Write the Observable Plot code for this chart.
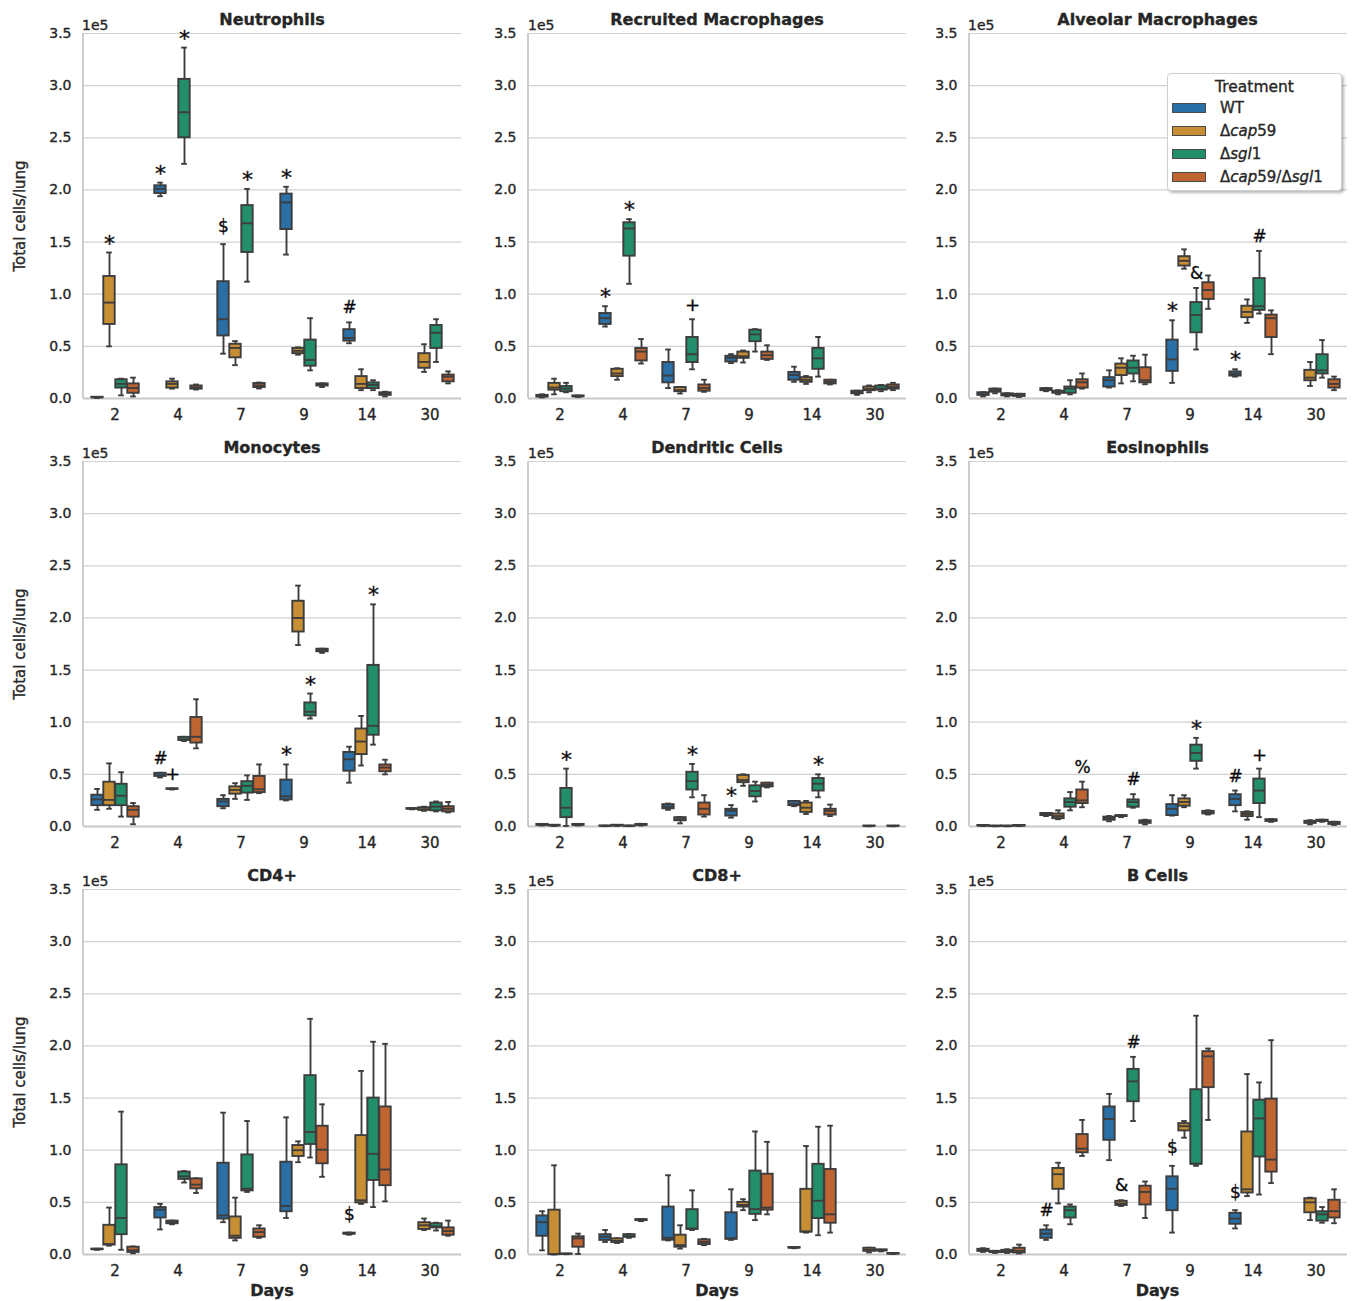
<!DOCTYPE html>
<html>
<head>
<meta charset="utf-8">
<script src="https://cdn.jsdelivr.net/npm/d3@7"></script>
<script src="https://cdn.jsdelivr.net/npm/@observablehq/plot@0.6"></script>
<style>
  body { margin: 0; background: #fff; }
  #root { position: relative; width: 1356px; height: 1301px; font-family: "DejaVu Sans", sans-serif; color: #262626; overflow: hidden;
          -webkit-text-stroke: 0.35px #262626; }
  #root svg text { stroke: currentColor; stroke-width: 0.35px; }
  .panel { position: absolute; }
  .lbl { position: absolute; white-space: nowrap; transform: translate(-50%, -50%); line-height: 1; }
  .title { font-weight: bold; font-size: 16px; }
  .offset { position: absolute; font-size: 14px; line-height: 1; transform: translateY(-50%); }
  .ylab { font-size: 15px; transform: translate(-50%, -50%) rotate(-90deg); }
  .xlab { font-weight: bold; font-size: 16px; }
  #legend { position: absolute; left: 1167px; top: 73px; width: 175px; height: 118px; box-sizing: border-box;
            background: #fff; border: 1px solid #d0d0d0; border-radius: 4px; box-shadow: 2px 2px 3px rgba(0,0,0,0.28); }
  #legend .ltitle { position: absolute; left: 0; right: 0; top: 4px; text-align: center; font-size: 15.5px; }
  #legend .row { position: absolute; left: 4px; height: 16px; display: flex; align-items: center; font-size: 15px; }
  #legend .sw { width: 34px; height: 10px; border: 1px solid #4a4a4a; box-sizing: border-box; margin-right: 14px; }
</style>
</head>
<body>
<div id="root"></div>
<script>
// ---------- categories ----------
const days = ["2", "4", "7", "9", "14", "30"];
const treatments = ["WT", "Δcap59", "Δsgl1", "Δcap59/Δsgl1"];
const colors = ["#2a6fa6", "#c88e34", "#238e6b", "#bf6532"];
const yTicks = [0, 0.5, 1, 1.5, 2, 2.5, 3, 3.5];           // in units of 1e5 cells/lung
const titles = ["Neutrophils", "Recruited Macrophages", "Alveolar Macrophages",
                "Monocytes", "Dendritic Cells", "Eosinophils",
                "CD4+", "CD8+", "B Cells"];

// ---------- box statistics: per day (rows) and treatment (cols): [min, q1, median, q3, max] (×1e5) ----------
const neutrophils = [
  [[0.005,0.008,0.01,0.012,0.015],[0.50,0.71,0.92,1.17,1.40],[0.03,0.10,0.14,0.18,0.19],[0.02,0.05,0.10,0.14,0.20]],
  [[1.94,1.965,2.01,2.04,2.07],[0.095,0.10,0.14,0.16,0.19],[2.25,2.50,2.745,3.06,3.365],[0.086,0.09,0.105,0.12,0.134]],
  [[0.43,0.60,0.76,1.12,1.48],[0.32,0.39,0.485,0.52,0.55],[1.12,1.40,1.68,1.85,2.01],[0.096,0.105,0.125,0.144,0.153]],
  [[1.38,1.62,1.88,1.96,2.03],[0.42,0.43,0.457,0.48,0.49],[0.27,0.31,0.37,0.56,0.77],[0.11,0.12,0.13,0.14,0.145]],
  [[0.53,0.55,0.58,0.66,0.73],[0.08,0.096,0.14,0.21,0.28],[0.08,0.095,0.13,0.15,0.175],[0.02,0.03,0.045,0.055,0.065]],
  [null,[0.255,0.29,0.35,0.43,0.52],[0.35,0.48,0.63,0.70,0.76],[0.145,0.16,0.21,0.225,0.26]]
];
const recruitedMacrophages = [
  [[0.01,0.015,0.02,0.03,0.04],[0.04,0.08,0.105,0.145,0.19],[0.06,0.065,0.095,0.115,0.15],[0.015,0.018,0.02,0.025,0.028]],
  [[0.69,0.71,0.77,0.815,0.885],[0.18,0.21,0.24,0.28,0.29],[1.10,1.365,1.63,1.685,1.72],[0.335,0.36,0.45,0.48,0.57]],
  [[0.10,0.15,0.22,0.345,0.47],[0.048,0.065,0.08,0.105,0.11],[0.28,0.345,0.425,0.585,0.76],[0.064,0.07,0.10,0.13,0.18]],
  [[0.34,0.35,0.39,0.405,0.425],[0.345,0.385,0.405,0.445,0.46],[0.45,0.545,0.615,0.655,0.665],[0.37,0.375,0.415,0.445,0.51]],
  [[0.16,0.175,0.225,0.25,0.305],[0.14,0.155,0.18,0.20,0.215],[0.21,0.28,0.385,0.48,0.59],[0.135,0.14,0.16,0.175,0.18]],
  [[0.035,0.045,0.06,0.07,0.075],[0.06,0.075,0.09,0.11,0.125],[0.07,0.08,0.095,0.12,0.13],[0.08,0.09,0.11,0.13,0.15]]
];
const alveolarMacrophages = [
  [[0.02,0.03,0.04,0.055,0.06],[0.05,0.06,0.08,0.09,0.095],[0.02,0.025,0.035,0.045,0.05],[0.015,0.02,0.03,0.04,0.045]],
  [[0.07,0.075,0.085,0.095,0.10],[0.04,0.05,0.06,0.07,0.08],[0.04,0.05,0.095,0.11,0.175],[0.095,0.10,0.155,0.18,0.24]],
  [[0.105,0.11,0.175,0.20,0.27],[0.145,0.22,0.295,0.33,0.385],[0.165,0.235,0.295,0.36,0.41],[0.137,0.15,0.175,0.295,0.42]],
  [[0.15,0.26,0.375,0.56,0.75],[1.245,1.27,1.32,1.36,1.43],[0.47,0.63,0.80,0.92,1.06],[0.86,0.95,1.04,1.11,1.18]],
  [[0.21,0.215,0.235,0.255,0.28],[0.725,0.775,0.83,0.885,0.95],[0.815,0.845,0.885,1.15,1.415],[0.425,0.585,0.77,0.80,0.845]],
  [null,[0.12,0.17,0.20,0.27,0.35],[0.20,0.235,0.27,0.42,0.56],[0.08,0.10,0.14,0.18,0.21]]
];
const monocytes = [
  [[0.16,0.20,0.26,0.30,0.36],[0.17,0.20,0.255,0.425,0.605],[0.095,0.20,0.295,0.405,0.52],[0.022,0.09,0.16,0.19,0.225]],
  [[0.47,0.48,0.49,0.51,0.515],[0.355,0.358,0.36,0.362,0.365],[0.82,0.825,0.835,0.855,0.86],[0.75,0.80,0.86,1.045,1.22]],
  [[0.175,0.19,0.24,0.26,0.30],[0.265,0.31,0.35,0.38,0.415],[0.255,0.32,0.39,0.43,0.49],[0.32,0.325,0.357,0.48,0.595]],
  [[0.25,0.255,0.29,0.445,0.595],[1.74,1.865,2.0,2.16,2.31],[1.035,1.06,1.10,1.185,1.275],[1.665,1.675,1.69,1.70,1.705]],
  [[0.42,0.53,0.645,0.71,0.765],[0.585,0.69,0.815,0.935,1.06],[0.785,0.875,0.965,1.545,2.13],[0.50,0.525,0.565,0.59,0.64]],
  [[0.165,0.167,0.17,0.172,0.175],[0.15,0.155,0.165,0.18,0.19],[0.145,0.15,0.19,0.225,0.24],[0.135,0.14,0.17,0.19,0.235]]
];
const dendriticCells = [
  [[0.01,0.012,0.015,0.02,0.022],[0.005,0.007,0.01,0.012,0.015],[0.005,0.085,0.18,0.365,0.555],[0.01,0.012,0.015,0.02,0.022]],
  [[0.003,0.004,0.005,0.006,0.007],[0.005,0.007,0.01,0.012,0.015],[0.003,0.004,0.005,0.006,0.007],[0.01,0.012,0.016,0.02,0.025]],
  [[0.16,0.17,0.19,0.21,0.22],[0.03,0.055,0.07,0.085,0.09],[0.28,0.35,0.435,0.52,0.60],[0.095,0.11,0.17,0.225,0.30]],
  [[0.085,0.10,0.15,0.165,0.205],[0.39,0.42,0.445,0.49,0.50],[0.24,0.285,0.34,0.39,0.43],[0.375,0.38,0.40,0.415,0.42]],
  [[0.195,0.20,0.215,0.24,0.245],[0.12,0.135,0.18,0.225,0.245],[0.28,0.34,0.41,0.46,0.50],[0.10,0.11,0.15,0.165,0.21]],
  [null,[0.002,0.003,0.004,0.005,0.006],null,[0.002,0.003,0.004,0.005,0.006]]
];
const eosinophils = [
  [[0.005,0.006,0.008,0.01,0.011],[0.002,0.003,0.004,0.005,0.006],[0.002,0.003,0.004,0.005,0.006],[0.005,0.006,0.008,0.01,0.011]],
  [[0.10,0.105,0.115,0.125,0.13],[0.07,0.075,0.10,0.12,0.155],[0.155,0.185,0.235,0.265,0.33],[0.185,0.22,0.25,0.35,0.43]],
  [[0.05,0.06,0.08,0.09,0.10],[0.09,0.095,0.10,0.105,0.11],[0.18,0.185,0.235,0.255,0.31],[0.02,0.03,0.045,0.055,0.065]],
  [[0.105,0.105,0.17,0.21,0.30],[0.185,0.195,0.235,0.265,0.30],[0.555,0.625,0.705,0.78,0.85],[0.115,0.12,0.13,0.145,0.155]],
  [[0.145,0.20,0.265,0.305,0.345],[0.065,0.095,0.12,0.135,0.145],[0.09,0.22,0.345,0.455,0.555],[0.045,0.05,0.055,0.065,0.07]],
  [null,[0.02,0.03,0.04,0.05,0.06],[0.045,0.05,0.055,0.06,0.065],[0.015,0.02,0.03,0.04,0.045]]
];
const cd4 = [
  [[0.045,0.047,0.05,0.052,0.055],[0.085,0.09,0.10,0.28,0.45],[0.045,0.19,0.35,0.86,1.37],[0.012,0.02,0.04,0.07,0.077]],
  [[0.24,0.35,0.43,0.45,0.486],[0.29,0.295,0.31,0.32,0.325],[0.69,0.72,0.75,0.79,0.80],[0.59,0.63,0.67,0.725,0.73]],
  [[0.31,0.34,0.375,0.875,1.36],[0.135,0.155,0.18,0.36,0.545],[0.60,0.61,0.63,0.955,1.28],[0.16,0.165,0.215,0.245,0.28]],
  [[0.35,0.41,0.465,0.885,1.315],[0.885,0.94,1.0,1.045,1.085],[0.93,1.055,1.175,1.715,2.26],[0.745,0.87,1.005,1.23,1.44]],
  [[0.19,0.195,0.2,0.205,0.21],[0.485,0.495,0.52,1.14,1.76],[0.455,0.71,0.965,1.50,2.04],[0.51,0.66,0.815,1.415,2.02]],
  [null,[0.235,0.24,0.28,0.305,0.345],[0.23,0.255,0.27,0.295,0.305],[0.18,0.185,0.225,0.255,0.325]]
];
const cd8 = [
  [[0.04,0.175,0.31,0.37,0.415],[0,0,0.003,0.425,0.855],[0.003,0.004,0.005,0.006,0.007],[0.005,0.07,0.155,0.17,0.20]],
  [[0.12,0.135,0.17,0.19,0.235],[0.11,0.115,0.13,0.15,0.155],[0.16,0.165,0.175,0.19,0.195],[0.32,0.325,0.33,0.335,0.34]],
  [[0.135,0.137,0.16,0.455,0.76],[0.057,0.07,0.09,0.185,0.28],[0.235,0.24,0.25,0.43,0.615],[0.09,0.095,0.12,0.14,0.15]],
  [[0.14,0.145,0.155,0.40,0.625],[0.425,0.455,0.475,0.50,0.53],[0.33,0.385,0.435,0.80,1.18],[0.385,0.425,0.45,0.77,1.08]],
  [[0.06,0.062,0.065,0.067,0.07],[0.21,0.215,0.22,0.625,1.04],[0.185,0.345,0.515,0.865,1.225],[0.21,0.30,0.385,0.815,1.235]],
  [null,[0.02,0.03,0.045,0.06,0.065],[0.03,0.035,0.04,0.045,0.045],[0.005,0.006,0.008,0.01,0.01]]
];
const bCells = [
  [[0.025,0.03,0.04,0.05,0.06],[0.015,0.02,0.025,0.03,0.035],[0.015,0.02,0.03,0.04,0.05],[0.01,0.015,0.035,0.06,0.095]],
  [[0.14,0.155,0.20,0.235,0.28],[0.49,0.625,0.77,0.825,0.88],[0.29,0.35,0.425,0.455,0.48],[0.945,0.975,1.015,1.15,1.29]],
  [[0.905,1.095,1.30,1.415,1.54],[0.465,0.47,0.49,0.51,0.52],[1.28,1.465,1.66,1.775,1.895],[0.35,0.475,0.60,0.655,0.70]],
  [[0.21,0.42,0.63,0.745,0.85],[1.12,1.185,1.23,1.255,1.28],[0.85,0.865,0.87,1.58,2.29],[1.29,1.60,1.90,1.945,1.975]],
  [[0.25,0.29,0.345,0.395,0.425],[0.56,0.59,0.625,1.175,1.73],[0.575,0.935,1.305,1.48,1.65],[0.685,0.79,0.91,1.49,2.055]],
  [null,[0.33,0.40,0.50,0.535,0.545],[0.305,0.32,0.385,0.41,0.455],[0.30,0.35,0.415,0.52,0.625]]
];

// ---------- significance marks: [day, treatment index, symbol] ----------
const neutrophilsNotes = [["2",1,"*"],["4",0,"*"],["4",2,"*"],["7",0,"$"],["7",2,"*"],["9",0,"*"],["14",0,"#"]];
const recruitedNotes   = [["4",0,"*"],["4",2,"*"],["7",2,"+"]];
const alveolarNotes    = [["9",0,"*"],["9",2,"&"],["14",0,"*"],["14",2,"#"]];
const monocytesNotes   = [["4",0,"#"],["4",1,"+"],["9",0,"*"],["9",2,"*"],["14",2,"*"]];
const dendriticNotes   = [["2",2,"*"],["7",2,"*"],["9",0,"*"],["14",2,"*"]];
const eosinophilsNotes = [["4",3,"%"],["7",2,"#"],["9",2,"*"],["14",0,"#"],["14",2,"+"]];
const cd4Notes         = [["14",0,"$"]];
const cd8Notes         = [];
const bCellsNotes      = [["4",0,"#"],["7",1,"&"],["7",2,"#"],["9",0,"$"],["14",0,"$"]];

const panelStats = [neutrophils, recruitedMacrophages, alveolarMacrophages, monocytes, dendriticCells, eosinophils, cd4, cd8, bCells];
const panelNotes = [neutrophilsNotes, recruitedNotes, alveolarNotes, monocytesNotes, dendriticNotes, eosinophilsNotes, cd4Notes, cd8Notes, bCellsNotes];

// ---------- layout & style ----------
const colLeft = [0, 446, 886];
const plotW = [382, 380, 381];
const rowTop = [0, 428, 856];
const mTop = 33, plotH = 365, mLeft = 81;
const mBottom = [30, 30, 46];
const edge = "#3d3d3d", gridColor = "#d2d2d2", spineColor = "#c8c8c8";
const symbolStyle = {"*": [-2, 22], "$": [-12.5, 17], "#": [-9, 17], "%": [-9, 17], "&": [-9, 17], "+": [-8, 18]};

const root = document.getElementById("root");

function makePanel(k) {
  const r = Math.floor(k / 3), c = k % 3;
  const stats = panelStats[k], notes = panelNotes[k];
  const rows = [];
  days.forEach((day, i) => treatments.forEach((t, j) => {
    const s = stats[i][j];
    if (s) rows.push({day, treatment: t, min: s[0], q1: s[1], med: s[2], q3: s[3], max: s[4]});
  }));
  const noteRows = notes.map(([day, j, sym]) => ({day, treatment: treatments[j], y: stats[days.indexOf(day)][j][4], sym}));
  const width = mLeft + plotW[c] + (c === 1 ? 5 : 8);
  const height = mTop + plotH + mBottom[r];
  const line = {stroke: edge, strokeWidth: 1.9};
  const capInset = plotW[c] / 6 / 5 / 4;

  const symMarks = Object.keys(symbolStyle).map(sym =>
    Plot.text(noteRows.filter(d => d.sym === sym), {
      fx: "day", x: "treatment", y: "y", text: "sym",
      lineAnchor: "bottom", dy: symbolStyle[sym][0], fontSize: symbolStyle[sym][1], fill: "#000"
    }));

  const svg = Plot.plot({
    width, height,
    marginLeft: mLeft, marginRight: width - mLeft - plotW[c], marginTop: mTop, marginBottom: mBottom[r],
    style: {fontFamily: "DejaVu Sans, sans-serif", color: "#262626", background: "transparent"},
    fx: {domain: days, padding: 0},
    x: {domain: treatments, paddingInner: 0, paddingOuter: 0.5, axis: null},
    y: {domain: [0, 3.5]},
    color: {domain: treatments, range: colors},
    marks: [
      Plot.gridY(yTicks, {stroke: gridColor, strokeOpacity: 1, strokeWidth: 1.2}),
      Plot.ruleY([0], {stroke: spineColor, strokeWidth: 1.8}),
      Plot.ruleX(rows, {fx: "day", x: "treatment", y1: "min", y2: "max", ...line}),
      Plot.tickY(rows, {fx: "day", x: "treatment", y: "min", ...line, insetLeft: capInset, insetRight: capInset}),
      Plot.tickY(rows, {fx: "day", x: "treatment", y: "max", ...line, insetLeft: capInset, insetRight: capInset}),
      Plot.barY(rows, {fx: "day", x: "treatment", y1: "q1", y2: "q3", fill: "treatment", ...line, insetLeft: 0.3, insetRight: 0.3}),
      Plot.tickY(rows, {fx: "day", x: "treatment", y: "med", ...line, insetLeft: 0.3, insetRight: 0.3}),
      ...symMarks,
      Plot.axisY({ticks: yTicks, tickFormat: d => d.toFixed(1), tickSize: 0, tickPadding: 12, fontSize: 14, label: null}),
      Plot.axisFx({anchor: "bottom", tickSize: 0, tickPadding: 11, fontSize: 15, label: null})
    ]
  });

  // left spine, placed with the chart's own scales
  const fxS = svg.scale("fx"), yS = svg.scale("y");
  const x0 = fxS.apply(days[0]);
  d3.select(svg).append("line")
    .attr("x1", x0).attr("x2", x0)
    .attr("y1", yS.apply(0)).attr("y2", yS.apply(3.5))
    .attr("stroke", spineColor).attr("stroke-width", 1.8);

  const wrap = document.createElement("div");
  wrap.className = "panel";
  wrap.style.left = colLeft[c] + "px";
  wrap.style.top = rowTop[r] + "px";
  wrap.appendChild(svg);
  root.appendChild(wrap);

  const cx = colLeft[c] + mLeft + plotW[c] / 2;
  const top = rowTop[r] + mTop;
  addLabel("lbl title", titles[k], cx, top - 13.5);
  const off = document.createElement("div");
  off.className = "offset";
  off.textContent = "1e5";
  off.style.left = (colLeft[c] + mLeft + 1) + "px";
  off.style.top = (top - 8.5) + "px";
  root.appendChild(off);
  if (c === 0) addLabel("lbl ylab", "Total cells/lung", 20, top + plotH / 2);
  if (r === 2) addLabel("lbl xlab", "Days", cx, 1291);
}

function addLabel(cls, text, x, y) {
  const el = document.createElement("div");
  el.className = cls;
  el.textContent = text;
  el.style.left = x + "px";
  el.style.top = y + "px";
  root.appendChild(el);
}

for (let k = 0; k < 9; k++) makePanel(k);

// ---------- legend ----------
const legend = document.createElement("div");
legend.id = "legend";
legend.innerHTML = `<div class="ltitle">Treatment</div>` + treatments.map((t, i) =>
  `<div class="row" style="top:${25.5 + i * 23.3}px"><div class="sw" style="background:${colors[i]}"></div>` +
  `<span>${t.replace(/(cap|sgl)/g, "<i>$1</i>")}</span></div>`).join("");
root.appendChild(legend);
</script>
</body>
</html>
